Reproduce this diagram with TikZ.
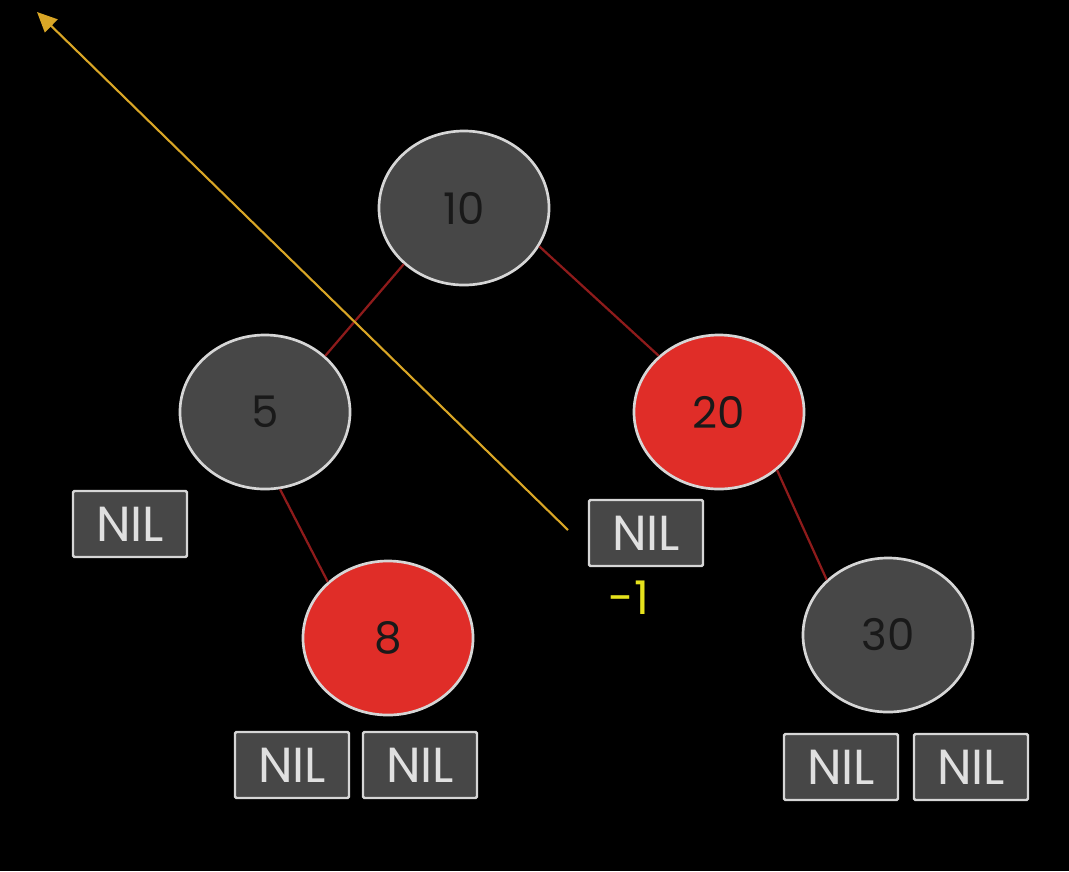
\documentclass[tikz,border=0pt]{standalone}
\usepackage{fontspec}
\setmainfont{Poppins}
\usetikzlibrary{shapes.geometric,arrows.meta}
\definecolor{nodegray}{HTML}{474747}
\definecolor{nodered}{HTML}{E02D28}
\definecolor{rimgray}{HTML}{D6D6D6}
\definecolor{edgered}{HTML}{8E1B1B}
\definecolor{arrowgold}{HTML}{D9A626}
\definecolor{labelyellow}{HTML}{E6E21C}

\begin{document}
\begin{tikzpicture}[x=0.025cm,y=-0.025cm,
  blacknode/.style={ellipse,draw=rimgray,line width=1.9pt,fill=nodegray,minimum width=4.25cm,minimum height=3.85cm,inner sep=0pt,text=black!90,font=\fontsize{31}{36}\selectfont},
  rednode/.style={blacknode,fill=nodered},
  nilbox/.style={rectangle,draw=rimgray,line width=1.7pt,fill=nodegray,rounded corners=1pt,minimum width=2.85cm,minimum height=1.65cm,inner sep=0pt,text=white!88!black,font=\fontsize{35}{40}\selectfont},
  treeedge/.style={draw=edgered,line width=1.6pt}]
  \fill[black] (0,0) rectangle (1069,871);
  \useasboundingbox (0,0) rectangle (1069,871);

  \node[blacknode] (n10) at (464,208) {10};

  \node[blacknode] (n5) at (265,412) {5};
  \node[rednode] (n20) at (719,412) {20};

  \node[rednode] (n8) at (388,638) {8};
  \node[blacknode] (n30) at (888,635) {30};

  \node[nilbox] (nil1) at (130,524) {NIL};
  \node[nilbox] (nil2) at (646,533) {NIL};
  \node[nilbox] (nil3) at (292,765) {NIL};
  \node[nilbox] (nil4) at (420,765) {NIL};
  \node[nilbox] (nil5) at (841,767) {NIL};
  \node[nilbox] (nil6) at (971,767) {NIL};

  \draw[treeedge] (n10.223) -- (n5.43);
  \draw[treeedge] (n10.-27) -- (n20.137);
  \draw[treeedge] (n5.-79) -- (n8.137);
  \draw[treeedge] (n20.-45) -- (n30.138);

  % pointer back up out of the picture
  \coordinate (tip) at (37,12);
  \coordinate (tail) at (568,530);
  \draw[arrowgold,line width=1.5pt,-{Triangle[length=0.5cm,width=0.45cm]}] (tail) -- (tip);

  \node[text=labelyellow,font=\fontsize{33}{38}\selectfont] (minus) at (629,598) {-1};
\end{tikzpicture}
\end{document}
